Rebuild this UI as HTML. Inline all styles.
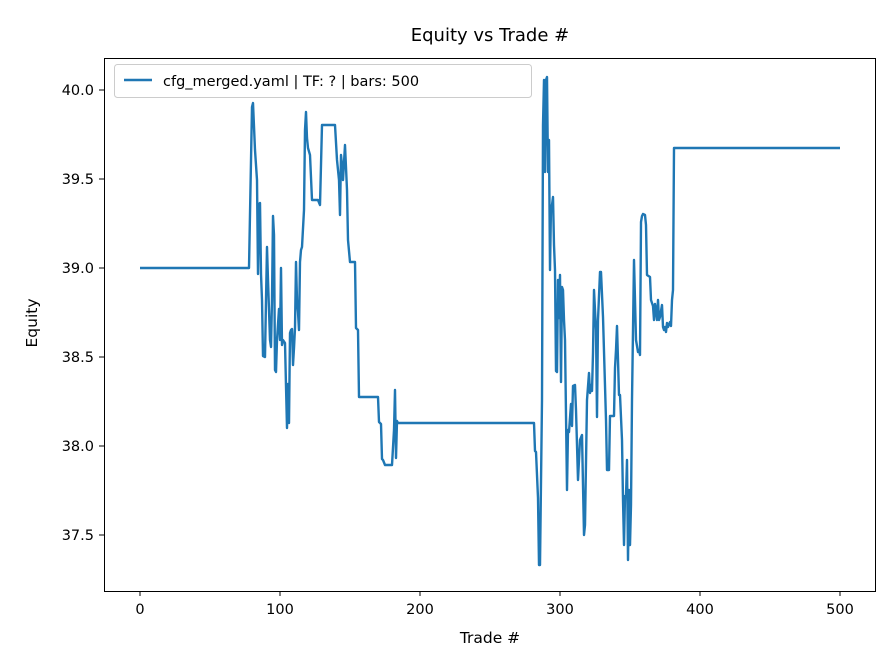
<!DOCTYPE html>
<html><head><meta charset="utf-8"><style>body{margin:0;background:#fff}svg{display:block}text{font-family:"DejaVu Sans","Liberation Sans",sans-serif;fill:#000}</style></head><body>
<svg width="896" height="672" viewBox="0 0 896 672">
<rect width="896" height="672" fill="#fff"/>
<polyline fill="none" stroke="#1f77b4" stroke-width="2.4" stroke-linejoin="round" points="140,268 249,268 252,107 253,103 255,150 257,180 258,274 259,204 260,203 261,274 262,300 263,356 265,357 266,300 267,247 268,280 270,340 271,347 272,300 273,216 274,235 275,370 276,372 277,340 279,309 280,340 281,268 282,345 283,340 285,343 286,386 287,428 288,384 289,423 290,333 291,330 292,329 293,365 294,348 295,328 296,262 297,300 298,312 299,330 300,262 301,250 302,247 304,210 305,130 306,112 307,138 308,148 310,155 312,200 318,200 320,205 322,125 324,125 335,125 337,160 339,180 340,215 341,155 342,165 343,180 345,145 347,190 348,240 350,262 355,262 356,328 358,330 359,397 378,397 379,422 381,424 382,459 383,460 385,465 392,465 394,430 395,390 396,458 397,421 398,423 534,423 535,451 536,452 538,498 539,565 540,565 542,400 543,125 544,80 545,172 546,80 547,77 548,172 549,140 550,270 551,206 552,205 553,197 554,245 555,270 556,371 557,372 558,280 559,318 560,275 561,382 562,287 563,290 564,320 565,340 567,490 568,430 569,432 571,404 572,426 573,386 575,385 576,410 578,480 580,440 582,435 584,535 585,525 587,400 589,373 590,393 591,385 592,391 593,353 594,290 596,330 597,417 598,320 600,272 601,272 603,317 606,420 607,470 609,470 610,416 614,416 615,368 616,350 617,326 618,360 619,395 620,395 622,440 623,500 624,545 625,496 626,496 627,460 628,560 629,490 630,545 631,505 632,400 634,260 636,340 638,352 639,350 640,355 641,222 642,216 643,214 645,215 646,225 647,275 650,277 651,300 653,306 654,320 655,304 656,310 657,320 658,300 659,320 660,317 662,305 663,327 664,330 665,327 666,332 667,323 668,327 670,322 671,326 672,300 673,290 674,148 840,148"/>
<rect x="104.5" y="58.5" width="771" height="533" fill="none" stroke="#000" stroke-width="1"/>
<g stroke="#000" stroke-width="1">
<line x1="140" y1="591" x2="140" y2="596"/><line x1="280" y1="591" x2="280" y2="596"/><line x1="420" y1="591" x2="420" y2="596"/><line x1="560" y1="591" x2="560" y2="596"/><line x1="700" y1="591" x2="700" y2="596"/><line x1="840" y1="591" x2="840" y2="596"/>
<line x1="99" y1="90" x2="104" y2="90"/><line x1="99" y1="179" x2="104" y2="179"/><line x1="99" y1="268" x2="104" y2="268"/><line x1="99" y1="357" x2="104" y2="357"/><line x1="99" y1="446" x2="104" y2="446"/><line x1="99" y1="535" x2="104" y2="535"/>
</g>
<g font-size="14.5" text-anchor="middle">
<text x="140" y="614">0</text><text x="280" y="614">100</text><text x="420" y="614">200</text><text x="560" y="614">300</text><text x="700" y="614">400</text><text x="840" y="614">500</text>
</g>
<g font-size="14.5" text-anchor="end">
<text x="94" y="95">40.0</text><text x="94" y="184">39.5</text><text x="94" y="273">39.0</text><text x="94" y="362">38.5</text><text x="94" y="451">38.0</text><text x="94" y="540">37.5</text>
</g>
<text x="490" y="643" font-size="15.5" text-anchor="middle">Trade #</text>
<text x="37" y="323" font-size="15.5" text-anchor="middle" transform="rotate(-90 37 323)">Equity</text>
<text x="490" y="41" font-size="18" text-anchor="middle">Equity vs Trade #</text>
<rect x="114.5" y="64.5" width="417" height="33" rx="3" fill="#fff" fill-opacity="0.8" stroke="#ccc"/>
<line x1="124" y1="80" x2="152" y2="80" stroke="#1f77b4" stroke-width="2.4"/>
<text x="163" y="86" font-size="14.5">cfg_merged.yaml | TF: ? | bars: 500</text>
</svg>
</body></html>
